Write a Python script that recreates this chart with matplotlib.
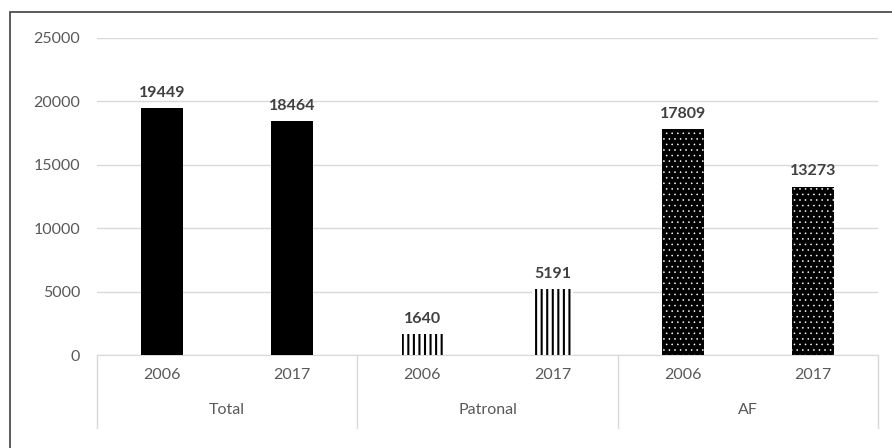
import matplotlib
matplotlib.use("Agg")
import matplotlib.pyplot as plt
from matplotlib.patches import Rectangle
from matplotlib.lines import Line2D

groups = ["Total", "Patronal", "AF"]
years = ["2006", "2017"]
values = [19449, 18464, 1640, 5191, 17809, 13273]

plt.rcParams['font.family'] = ['Lato', 'DejaVu Sans']

W, H = 892, 448
fig = plt.figure(figsize=(W / 100, H / 100), dpi=100)

x0, x1, y0, y1 = 97, 878, 355, 38
ax = fig.add_axes([x0 / W, 1 - y0 / H, (x1 - x0) / W, (y0 - y1) / H])

n = len(values)
xs = list(range(n))
bw = 0.32
styles = [
    dict(facecolor="black", edgecolor="black", hatch=None),
    dict(facecolor="black", edgecolor="black", hatch=None),
    dict(facecolor="white", edgecolor="black", hatch="|||"),
    dict(facecolor="white", edgecolor="black", hatch="|||"),
    dict(facecolor="black", edgecolor="white", hatch="..."),
    dict(facecolor="black", edgecolor="white", hatch="..."),
]
hlw = [1.0, 1.0, 1.5, 1.5, 0.4, 0.4]
for x, v, st, lw in zip(xs, values, styles, hlw):
    plt.rcParams['hatch.linewidth'] = lw
    bars = ax.bar(x, v, width=bw, linewidth=0, zorder=3, **st)
    for b in bars:
        if hasattr(b, "set_hatch_linewidth"):
            b.set_hatch_linewidth(lw)
    ax.text(x, v + 650, f"{v}", ha="center", va="bottom", fontsize=11.5,
            fontweight="bold", color="#404040", zorder=4)

ax.set_xlim(-0.5, n - 0.5)
ax.set_ylim(0, 25000)
ax.set_yticks(range(0, 25001, 5000))
ax.yaxis.grid(True, color="#d9d9d9", linewidth=1)
ax.set_axisbelow(True)
for s in ["top", "right", "left"]:
    ax.spines[s].set_visible(False)
ax.spines["bottom"].set_color("#d9d9d9")
ax.tick_params(axis="y", length=0, labelsize=11.5, labelcolor="#595959", pad=12)
ax.tick_params(axis="x", length=0, labelsize=11.5, labelcolor="#595959", pad=9)
ax.set_xticks(xs)
ax.set_xticklabels(years * len(groups))

# group labels and separators
for gi, g in enumerate(groups):
    cx = (2 * gi + 0.5)
    ax.text(cx, -0.173, g, transform=ax.get_xaxis_transform(), ha="center",
            va="center", fontsize=11.5, color="#595959")
for k in range(len(groups) + 1):
    xp = x0 + k * (x1 - x0) / len(groups)
    fig.add_artist(Line2D([xp / W, xp / W], [1 - y0 / H, 1 - 428 / H],
                          color="#d9d9d9", linewidth=1))

# outer border
fig.add_artist(Rectangle((10 / W, -0.05), 1.0, 1 - 12 / H + 0.05,
                         transform=fig.transFigure, fill=False,
                         edgecolor="#404040", linewidth=1.2))

fig.savefig("out.png", dpi=100)
